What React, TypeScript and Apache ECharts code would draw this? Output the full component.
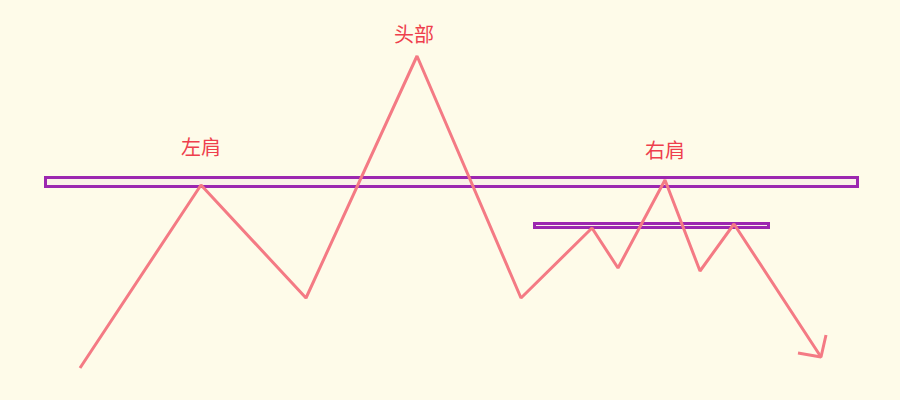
import React, { useEffect, useRef } from "react";
import * as echarts from "echarts";

// Price path (x: time, y: price)
const pathX = [80, 201, 306, 417, 521, 592, 618, 665, 700, 734, 821];
const pathY = [32, 215, 102, 344, 102, 172, 132, 220, 129, 176, 43];

// Arrow head at the end of the path
const arrowX = [798, 821, 826];
const arrowY = [47, 43, 65];

// Neckline boxes [x0, y0, x1, y1]
const necklines = [
  [45.5, 213.5, 857.5, 222.5],
  [534.5, 172.5, 768.5, 176.5],
];

// Labels
const labelNames = ["左肩", "头部", "右肩"];
const labelX = [201, 414, 665];
const labelY = [254, 367, 251];

export default function App() {
  const ref = useRef<HTMLDivElement>(null);
  useEffect(() => {
    document.body.style.margin = "0";
    const chart = echarts.init(ref.current!, null, { renderer: "svg" });
    const lineColor = "#F47A84";
    chart.setOption({
      animation: false,
      backgroundColor: "#FEFBE9",
      grid: { left: 0, right: 0, top: 0, bottom: 0 },
      xAxis: { type: "value", min: 0, max: 900, show: false },
      yAxis: { type: "value", min: 0, max: 400, show: false },
      series: [
        {
          type: "line",
          data: pathX.map((x, i) => [x, pathY[i]]),
          symbol: "none",
          lineStyle: { color: lineColor, width: 3 },
          z: 3,
          markArea: {
            silent: true,
            itemStyle: {
              color: "#FAF1E8",
              borderColor: "#9C27B0",
              borderWidth: 3,
              opacity: 1,
            },
            data: necklines.map((r) => [
              { coord: [r[0], r[1]] },
              { coord: [r[2], r[3]] },
            ]),
          },
        },
        {
          type: "line",
          data: arrowX.map((x, i) => [x, arrowY[i]]),
          symbol: "none",
          lineStyle: { color: lineColor, width: 3 },
          z: 3,
        },
        {
          type: "scatter",
          symbolSize: 0,
          itemStyle: { opacity: 1 },
          data: labelX.map((x, i) => ({ value: [x, labelY[i]], name: labelNames[i] })),
          label: {
            show: true,
            position: "inside",
            formatter: (p: any) => p.name,
            color: "#EE3F4D",
            fontSize: 20,
            fontFamily: "Noto Sans CJK SC",
          },
          z: 4,
        },
      ],
    });
    return () => chart.dispose();
  }, []);
  return <div ref={ref} style={{ width: 900, height: 400 }} />;
}
